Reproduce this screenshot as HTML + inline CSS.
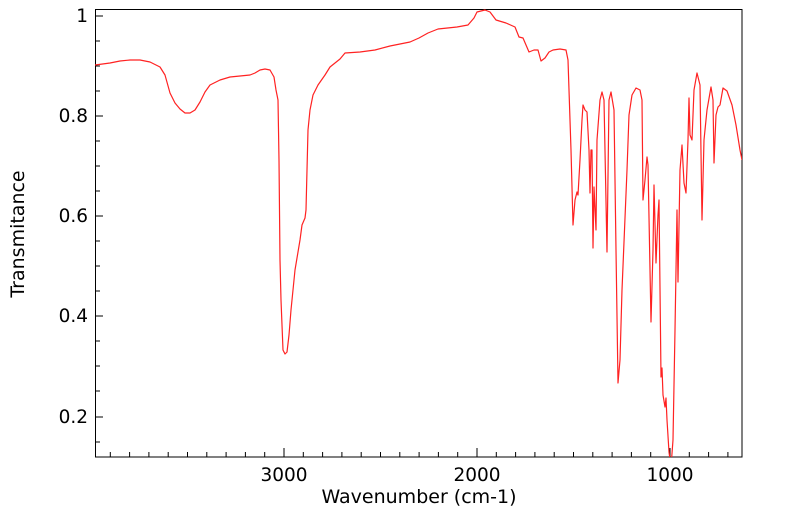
<!DOCTYPE html>
<html><head><style>body{margin:0;background:#fff}svg{display:block}text{font-family:"DejaVu Sans","Liberation Sans",sans-serif;fill:#000}</style></head><body>
<svg width="799" height="516" viewBox="0 0 799 516">
<defs><clipPath id="c"><rect x="95" y="9" width="647" height="448"/></clipPath></defs>
<g stroke="#000" stroke-width="1">
<path d="M95 16h8M95 116h8M95 216h8M95 316h8M95 417h8" />
<path d="M95 41h5M95 66h5M95 91h5M95 141h5M95 166h5M95 191h5M95 241h5M95 266h5M95 291h5M95 341h5M95 366h5M95 391h5M95 442h5"/>
<path d="M284 457v-9M477 457v-9M670 457v-9"/>
<path d="M110.3 457v-5M129.6 457v-5M148.9 457v-5M168.2 457v-5M187.5 457v-5M206.8 457v-5M226.1 457v-5M245.4 457v-5M264.7 457v-5M303.3 457v-5M322.6 457v-5M341.9 457v-5M361.2 457v-5M380.5 457v-5M399.8 457v-5M419.1 457v-5M438.4 457v-5M457.7 457v-5M496.3 457v-5M515.6 457v-5M534.9 457v-5M554.2 457v-5M573.5 457v-5M592.8 457v-5M612.1 457v-5M631.4 457v-5M650.7 457v-5M689.3 457v-5M708.6 457v-5M727.9 457v-5"/>
</g>
<rect x="95.5" y="9.5" width="646.5" height="447.5" fill="none" stroke="#000" stroke-width="1"/>
<path clip-path="url(#c)" fill="none" stroke="#f22" stroke-width="1.2" stroke-linejoin="round" d="M95 65L110 63L120 61L130 60L140 60L150 62L160 67L165 75L170 93L175 103L180 109L185 113L190 113L195 110L200 102L205 92L210 85L220 80L230 77L240 76L250 75L255 73L260 70L265 69L270 70L274 77L276 90L278 100L279 160L280 260L281 300L283 350L285 354L287 352L289 335L291 310L293 290L295 270L297 258L300 240L302 225L305 218L306 210L307 170L308 130L310 110L313 95L318 85L325 75L330 67L335 63L340 59L345 53L360 52L375 50L390 46L400 44L410 42L419 38L428 33L438 29L457 27L468 25L474 18L477 12L485 10L490 12L496 20L506 23L515 27L519 37L523 38L526 45L529 52L534 50L538 50L541 61L545 58L549 52L553 50L560 49L566 50L568 60L571 150L573 225L575 200L577 192L578 195L580 160L582 120L583 105L585 110L587 112L589 150L590 193L591 150L592 150L593 248L594 187L596 230L597 140L600 100L602 92L604 100L607 252L609 100L611 92L614 110L616 250L618 383L620 360L622 290L625 218L627 170L629 115L632 95L636 88L640 90L642 100L643 200L645 180L647 157L648 165L651 322L653 250L654 185L656 263L658 215L659 200L661 377L662 368L663 395L665 407L666 398L667 420L669 452L671 467L673 440L675 330L677 210L678 282L680 170L682 145L684 183L686 193L688 140L689 98L690 135L692 140L694 90L697 73L700 85L702 220L704 140L707 110L711 87L713 100L714 163L716 115L718 107L720 105L723 88L727 91L732 105L736 125L740 150L742 160"/>
<g font-size="18.5">
<text x="88" y="22" text-anchor="end">1</text>
<text x="88" y="122" text-anchor="end">0.8</text>
<text x="88" y="222" text-anchor="end">0.6</text>
<text x="88" y="322" text-anchor="end">0.4</text>
<text x="88" y="423" text-anchor="end">0.2</text>
<text x="284" y="481" text-anchor="middle">3000</text>
<text x="477" y="481" text-anchor="middle">2000</text>
<text x="670" y="481" text-anchor="middle">1000</text>
</g>
<g font-size="19">
<text x="419" y="503" text-anchor="middle">Wavenumber (cm-1)</text>
<text transform="translate(24,234) rotate(-90)" text-anchor="middle">Transmitance</text>
</g>
</svg>
</body></html>
